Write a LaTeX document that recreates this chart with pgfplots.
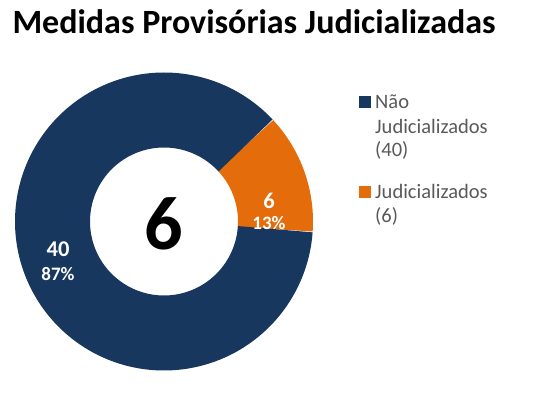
\documentclass[border=0pt]{standalone}
\usepackage{pgfplots}
\pgfplotsset{compat=1.18}
\usepackage{fontspec}
\setmainfont{Carlito}
\definecolor{navy}{RGB}{23,55,94}
\definecolor{orng}{RGB}{228,108,10}
\definecolor{lgray}{RGB}{89,89,89}
% data
\def\valA{40} % Não Judicializados
\def\valB{6}  % Judicializados
\pgfmathsetmacro{\total}{\valA+\valB}
\pgfmathsetmacro{\startang}{43}
\pgfmathsetmacro{\endB}{\startang-360*\valB/\total}
\pgfmathsetmacro{\endA}{\endB-360*\valA/\total}
\def\cx{164}
\def\cy{221.5}
\def\rm{111.5}
\begin{document}
\begin{tikzpicture}
\begin{axis}[
  width=560pt, height=396pt, scale only axis,
  xmin=0, xmax=560, ymin=0, ymax=396, y dir=reverse,
  hide axis, clip=false,
]
\path (axis cs:0,0) rectangle (axis cs:560,396);
% Judicializados (orange)
\addplot[orng, line width=75pt, domain=\endB:\startang, samples=60, variable=\t]
  ({\cx+\rm*cos(\t)},{\cy-\rm*sin(\t)});
% Não Judicializados (navy)
\addplot[navy, line width=75pt, domain=\endA:\endB, samples=200, variable=\t]
  ({\cx+\rm*cos(\t)},{\cy-\rm*sin(\t)});
% data labels
\node[white, font=\fontsize{22.5}{23}\selectfont\bfseries] at (axis cs:269,201) {6};
\node[white, font=\fontsize{19}{20}\selectfont\bfseries] at (axis cs:269,223) {13\%};
\node[white, font=\fontsize{22.5}{23}\selectfont\bfseries] at (axis cs:58,249) {40};
\node[white, font=\fontsize{19}{20}\selectfont\bfseries] at (axis cs:58,274) {87\%};
% center total
\node[black, font=\fontsize{76}{76}\selectfont\bfseries] at (axis cs:\cx,224) {6};
% title
\node[anchor=base west, font=\fontsize{34}{35}\selectfont\bfseries] at (axis cs:9,34) {Medidas Provisórias Judicializadas};
% legend
\fill[navy] (axis cs:359,96) rectangle (axis cs:371,108);
\fill[orng] (axis cs:359,186) rectangle (axis cs:371,198);
\begin{scope}[every node/.style={anchor=base west, text=lgray, font=\fontsize{20.5}{24}\selectfont, inner sep=0pt}]
\node at (axis cs:375,108) {Não};
\node at (axis cs:375,133) {Judicializados};
\node at (axis cs:375,157) {(40)};
\node at (axis cs:375,198) {Judicializados};
\node at (axis cs:375,222) {(6)};
\end{scope}
\end{axis}
\end{tikzpicture}
\end{document}
